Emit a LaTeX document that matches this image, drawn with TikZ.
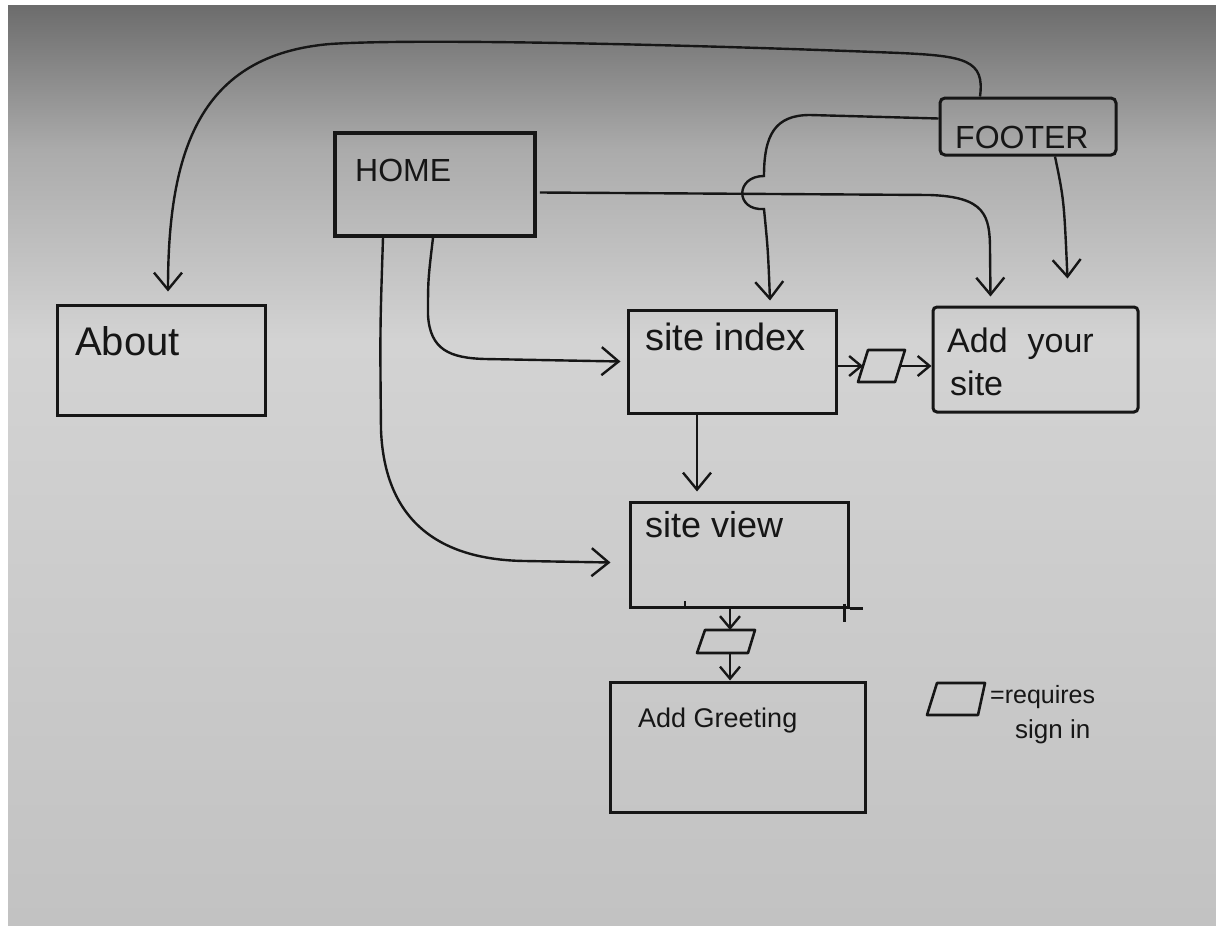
\documentclass[tikz,border=0pt]{standalone}
\usepackage{fontspec}
\setmainfont{Liberation Sans}
\usetikzlibrary{arrows.meta}
\definecolor{ink}{HTML}{161616}
\definecolor{bgA}{HTML}{6C6C6C}
\definecolor{bgB}{HTML}{ABABAB}
\definecolor{bgC}{HTML}{D3D3D3}
\definecolor{bgD}{HTML}{C2C2C2}
\begin{document}
\begin{tikzpicture}[x=1pt,y=-1pt,
  box/.style={draw=ink, line width=3pt, inner sep=0pt},
  signline/.style={draw=ink, line width=2.6pt, line join=round},
  conn/.style={draw=ink, line width=2.4pt, -{Straight Barb[length=17pt,width=28pt]}},
  sconn/.style={draw=ink, line width=2.4pt, -{Straight Barb[length=12pt,width=20pt]}},
  lbl/.style={text=ink, anchor=base west, inner sep=0pt},
]
\useasboundingbox (0,0) rectangle (1216,929);
\fill[white] (0,0) rectangle (1216,929);
\shade[top color=bgA, bottom color=bgB] (8,5) rectangle (1216,150);
\shade[top color=bgB, bottom color=bgC] (8,150) rectangle (1216,340);
\shade[top color=bgC, bottom color=bgD] (8,340) rectangle (1216,925);

% boxes
\node[box, line width=3.6pt, minimum width=200pt, minimum height=103pt] (home) at (435,184.5) {};
\node[box, minimum width=208pt, minimum height=110pt] (about) at (161,360) {};
\node[box, minimum width=208pt, minimum height=103pt] (site) at (732,361.5) {};
\node[box, rounded corners=4pt, minimum width=205pt, minimum height=105pt] (add) at (1035.5,359.5) {};
\node[box, rounded corners=5pt, minimum width=176pt, minimum height=57pt] (footer) at (1028,126.5) {};
\node[box, minimum width=218pt, minimum height=105pt] (view) at (739,554.5) {};
\node[box, minimum width=255pt, minimum height=130pt] (greet) at (737.5,747) {};

% sign-in markers (parallelograms)
\coordinate (p1w) at (863,366);
\coordinate (p1e) at (900,366);
\draw[signline] (868,350) -- (905,350) -- (895,382) -- (858,382) -- cycle;
\coordinate (p2n) at (730,630);
\coordinate (p2s) at (730,653);
\draw[signline] (705,630) -- (755,630) -- (748,653) -- (697,653) -- cycle;
\draw[signline] (937,683) -- (985,683) -- (978,715) -- (927,715) -- cycle;

% texts
\node[lbl, font=\fontsize{32}{32}\selectfont] (thome) at (355,181) {HOME};
\node[lbl, font=\fontsize{40}{40}\selectfont] (tabout) at (75,355) {About};
\node[lbl, font=\fontsize{38}{38}\selectfont] (tsite) at (645,350) {site index};
\node[lbl, font=\fontsize{34}{34}\selectfont] (tadd1) at (947,352) {Add\hspace{20pt}your};
\node[lbl, font=\fontsize{34}{34}\selectfont] (tadd2) at (950,395) {site};
\node[lbl, font=\fontsize{32}{32}\selectfont] (tfooter) at (955,148) {FOOTER};
\node[lbl, font=\fontsize{36}{36}\selectfont] (tview) at (645,537) {site view};
\node[lbl, font=\fontsize{27}{27}\selectfont] (tgreet) at (638,727) {Add Greeting};
\node[lbl, font=\fontsize{25}{25}\selectfont] (treq) at (990,703) {=requires};
\node[lbl, font=\fontsize{26}{26}\selectfont] (tsign) at (1015,738) {sign in};

% small hand-drawn extras on site view box
\draw[ink, line width=2.6pt] (view.south east) -- ++(13,0);
\draw[ink, line width=2.2pt] ([xshift=-5pt,yshift=5pt]view.south east) -- ++(0,18);
\draw[ink, line width=1.8pt] ([xshift=-54pt]view.south) -- ++(0,-8);

% connectors
\draw[conn] ([xshift=-48pt]footer.north) .. controls (985,60) and (965,56) .. (900,53)
   .. controls (700,45) and (420,38) .. (330,44)
   .. controls (200,55) and (168,150) .. ([xshift=7pt,yshift=12pt]about.north);
\draw[conn] ([yshift=8pt]footer.west) -- (810,115) .. controls (775,115) and (764,135) .. (764,176)
   .. controls (735,176) and (735,211) .. (764,209)
   .. controls (768,250) .. ([xshift=38pt,yshift=8pt]site.north);
\draw[conn] ([xshift=3pt,yshift=-8pt]home.east) -- (930,195) .. controls (985,197) and (990,215) .. (990,250) -- ([xshift=-45pt,yshift=9pt]add.north);
\draw[conn] ([xshift=27pt]footer.south) .. controls (1064,200) .. ([xshift=32pt,yshift=27pt]add.north);
\draw[conn] ([xshift=-2pt]home.south) .. controls (428,280) .. (428,315) .. controls (430,350) and (450,358) .. (485,359) -- ([xshift=-6pt]site.west);
\draw[conn] ([xshift=-52pt]home.south) .. controls (380,330) .. (381,430) .. controls (385,530) and (450,560) .. (525,561) -- ([xshift=-18pt,yshift=-8pt]view.west);
\draw[conn] ([xshift=-35pt]site.south) -- ([xshift=-42pt,yshift=9pt]view.north);
\draw[sconn] ([yshift=-4.5pt]site.east) -- (p1w);
\draw[sconn] (p1e) -- ([yshift=-6.5pt]add.west);
\draw[sconn] ([xshift=-9pt]view.south) -- (p2n);
\draw[sconn] (p2s) -- ([xshift=-7.5pt]greet.north);
\end{tikzpicture}
\end{document}
